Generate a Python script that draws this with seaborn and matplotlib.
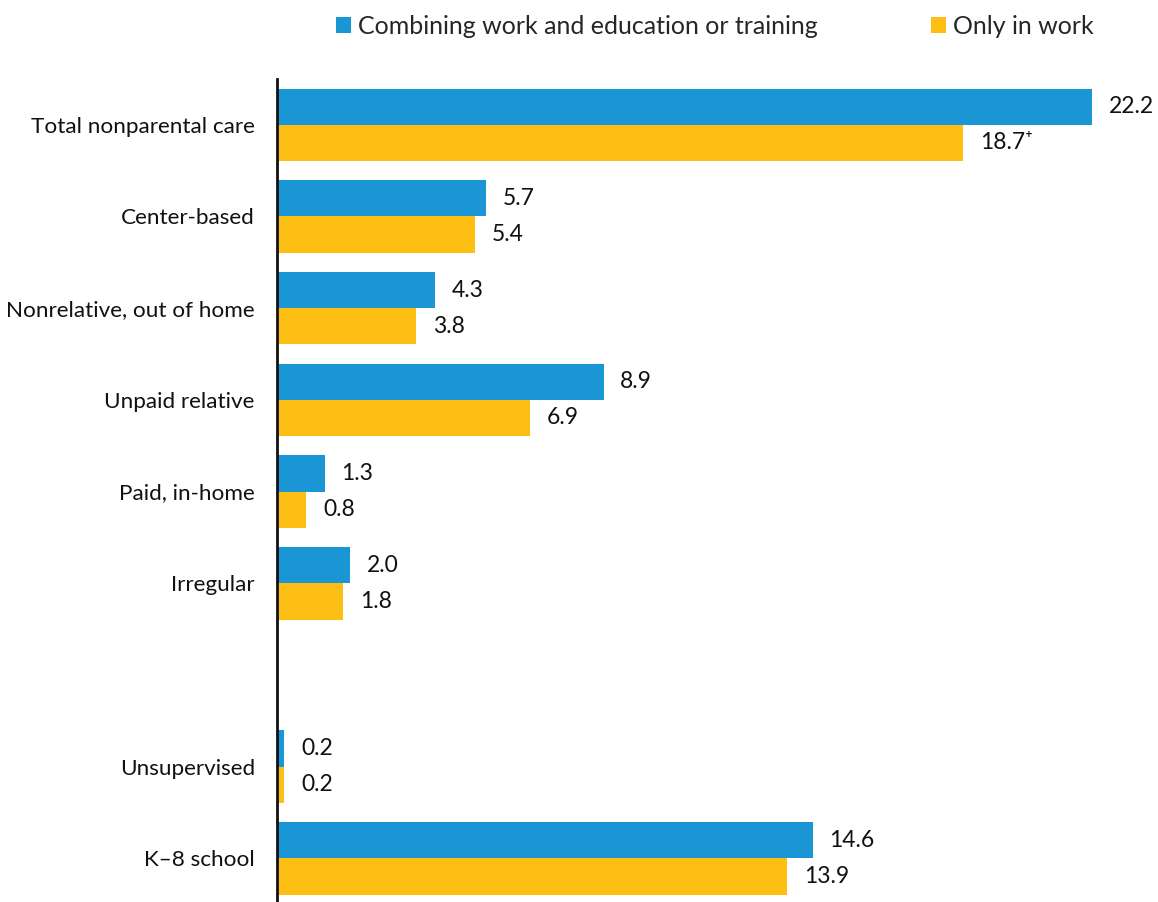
import matplotlib
matplotlib.use("Agg")
import matplotlib.pyplot as plt
import seaborn as sns
import pandas as pd
from matplotlib.patches import Patch

# Care arrangements (percent) by parental activity
categories = ["Total nonparental care", "Center-based", "Nonrelative, out of home",
              "Unpaid relative", "Paid, in-home", "Irregular",
              "Unsupervised", "K\u20138 school"]
combining = [22.2, 5.7, 4.3, 8.9, 1.3, 2.0, 0.2, 14.6]
only_work = [18.7, 5.4, 3.8, 6.9, 0.8, 1.8, 0.2, 13.9]
only_work_notes = ["\u207a", "", "", "", "", "", "", ""]
series_names = ["Combining work and education or training", "Only in work"]

# row order with a blank spacer row before the last two groups
row_order = categories[:6] + [" "] + categories[6:]

sns.set_theme(style="white")
plt.rcParams["font.family"] = ["Lato", "DejaVu Sans"]

df = pd.DataFrame({
    "category": categories * 2,
    "value": combining + only_work,
    "series": [series_names[0]] * len(categories) + [series_names[1]] * len(categories),
})

colors = {series_names[0]: "#1A96D4", series_names[1]: "#FDBF14"}

fig = plt.figure(figsize=(11.58, 9.02), dpi=100)
ax = fig.add_axes([0.2392, -0.0025, 0.7608, 0.915])

sns.barplot(data=df, y="category", x="value", hue="series", order=row_order,
            hue_order=series_names, palette=colors, orient="h", width=0.79,
            saturation=1, linewidth=0, legend=False, ax=ax)

ax.set_xlim(0, 24)
ax.set_xlabel("")
ax.set_ylabel("")
ax.set_xticks([])
for side in ["top", "right", "bottom"]:
    ax.spines[side].set_visible(False)
ax.spines["left"].set_color("#111111")
ax.spines["left"].set_linewidth(2)
ax.tick_params(axis="y", length=0, pad=16, labelsize=16.2, labelcolor="#111111")

# value labels beside each bar
label_sets = [
    (ax.containers[0], combining, [""] * len(categories)),
    (ax.containers[1], only_work, only_work_notes),
]
for container, values, notes in label_sets:
    labels = [f"{v:.1f}{n}" for v, n in zip(values, notes)]
    ax.bar_label(container, labels=labels, padding=12, fontsize=16.5, color="#111111")

handles = [Patch(facecolor=colors[s], edgecolor="none") for s in series_names]
fig.legend(handles, series_names, loc="upper left", bbox_to_anchor=(0.275, 1.003),
           ncol=2, frameon=False, fontsize=18, handlelength=0.6, handleheight=0.6,
           handletextpad=0.3, columnspacing=4.5, borderaxespad=0.3)

fig.savefig("out.png", dpi=100)
